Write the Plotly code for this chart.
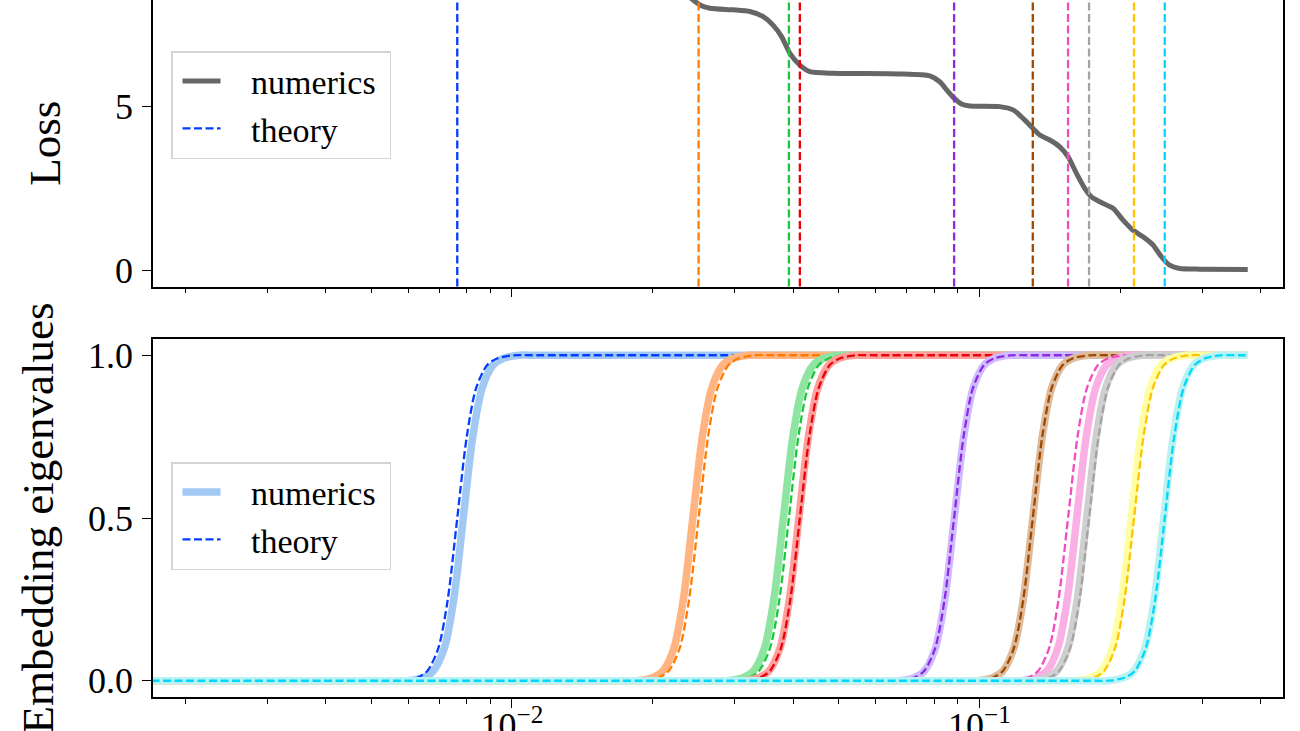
import plotly.graph_objects as go
from plotly.subplots import make_subplots

# ---------------- data ----------------
T_START = 0.0016
T_END = 0.375

THEORY_COLORS = ['#023eff', '#ff7c00', '#1ac938', '#e8000b', '#8b2be2',
                 '#9f4800', '#f14cc1', '#a3a3a3', '#ffc400', '#00d7ff']
NUMERICS_COLORS = ['#a1c9f4', '#ffb482', '#8de5a1', '#ff9f9b', '#d0bbff',
                   '#debb9b', '#fab0e4', '#cfcfcf', '#fffea3', '#b9f2f0']

# time at which each eigenvalue crosses 0.5 (theory = dashed, numerics = thick)
THEORY_MID = [0.00764, 0.02508, 0.03913, 0.04130, 0.08829,
              0.13009, 0.15477, 0.17163, 0.21418, 0.24917]
NUMERICS_MID = [0.00787, 0.02438, 0.03808, 0.04110, 0.08838,
                0.13009, 0.16155, 0.16970, 0.21125, 0.24795]

# common shape of one rise: offset from the
# mid time (in decades) at which a curve reaches each level
PROFILE_DECADES = [-0.16, -0.12, -0.085, -0.064, -0.0405, -0.0203, 0.0,
                   0.0203, 0.0405, 0.064, 0.085, 0.12, 0.16]
PROFILE_LEVELS = [0.0, 0.0, 0.01, 0.03, 0.10, 0.25, 0.50,
                  0.75, 0.90, 0.97, 0.99, 1.0, 1.0]

# loss curve (top panel)
LOSS_T = [0.0016, 0.0062, 0.0074, 0.0090, 0.0180, 0.020728, 0.022318, 0.023322,
          0.024419, 0.025238, 0.026513, 0.029690, 0.032282, 0.034412, 0.036154,
          0.037746, 0.039319, 0.041302, 0.043389, 0.048581, 0.067555, 0.078323,
          0.082283, 0.085712, 0.088289, 0.091565, 0.095379, 0.11056, 0.11808,
          0.12403, 0.13009, 0.13465, 0.14145, 0.14857, 0.15477, 0.16131,
          0.16803, 0.17367, 0.18091, 0.19316, 0.20290, 0.21313, 0.22390,
          0.23520, 0.24513, 0.25535, 0.26827, 0.29604, 0.375]
LOSS_Y = [10.0, 9.99, 9.5, 9.01, 9.0, 8.95, 8.75, 8.5,
          8.26, 8.11, 8.01, 7.96, 7.91, 7.76, 7.50,
          7.14, 6.63, 6.27, 6.07, 6.02, 6.0, 5.94,
          5.76, 5.46, 5.26, 5.08, 5.02, 5.0, 4.90,
          4.64, 4.34, 4.13, 3.98, 3.77, 3.47, 2.96,
          2.50, 2.24, 2.09, 1.89, 1.53, 1.22, 1.02,
          0.77, 0.41, 0.15, 0.05, 0.03, 0.02]

X_MAJOR = [0.01, 0.1]
X_MAJOR_TEXT = ['10<sup>\u22122</sup>', '10<sup>\u22121</sup>']
X_MINOR = [0.002, 0.003, 0.004, 0.005, 0.006, 0.007, 0.008, 0.009,
           0.02, 0.03, 0.04, 0.05, 0.06, 0.07, 0.08, 0.09,
           0.2, 0.3, 0.4]
LOSS_TICKS = [0, 5]
LOSS_TICK_TEXT = ['0', '5']
EIG_TICKS = [0.0, 0.5, 1.0]
EIG_TICK_TEXT = ['0.0', '0.5', '1.0']

# ---------------- figure ----------------
FONT = 'Liberation Serif'
DASH = '8px,3.5px'
PAD = '\u00a0\u00a0\u00a0'

fig = make_subplots(rows=2, cols=1, shared_xaxes=True, vertical_spacing=0.05)


def curve_points(mid):
    ts = [T_START] + [mid * 10 ** d for d in PROFILE_DECADES] + [T_END]
    ys = [0.0] + PROFILE_LEVELS + [1.0]
    return ts, ys


# top: loss
fig.add_trace(go.Scatter(
    x=LOSS_T, y=LOSS_Y, mode='lines', name=PAD + 'numerics\u00a0',
    line=dict(color='#666666', width=5, shape='spline', smoothing=0.6),
    legend='legend', legendrank=1, showlegend=True, hoverinfo='skip'),
    row=1, col=1)

for i, tm in enumerate(THEORY_MID):
    fig.add_vline(x=tm, row=1, col=1,
                  line=dict(color=THEORY_COLORS[i], width=2.3, dash=DASH),
                  showlegend=(i == 0), name=PAD + 'theory', legend='legend',
                  legendrank=2)

# bottom: eigenvalues
for i in range(len(THEORY_MID)):
    tn, yn = curve_points(NUMERICS_MID[i])
    fig.add_trace(go.Scatter(
        x=tn, y=yn, mode='lines', name=PAD + 'numerics\u00a0',
        line=dict(color=NUMERICS_COLORS[i], width=7.5, shape='spline', smoothing=0.8),
        legend='legend2', legendrank=1, showlegend=(i == 0), hoverinfo='skip'),
        row=2, col=1)
    tt, yt = curve_points(THEORY_MID[i])
    fig.add_trace(go.Scatter(
        x=tt, y=yt, mode='lines', name=PAD + 'theory',
        line=dict(color=THEORY_COLORS[i], width=2.3, dash=DASH, shape='spline', smoothing=0.8),
        legend='legend2', legendrank=2, showlegend=(i == 0), hoverinfo='skip'),
        row=2, col=1)

W, H = 1300, 731
ML, MR, MT, MB = 153, 17, 0, 34
plot_h = H - MT - MB
top_dom = [(plot_h - 286.5) / plot_h, 1.0]
bot_dom = [0.0, (plot_h - 339) / plot_h]

axis_common = dict(showline=True, linecolor='black', linewidth=1.5,
                   ticks='outside', tickcolor='black', tickwidth=1.4, ticklen=9,
                   showgrid=False, zeroline=False,
                   tickfont=dict(family=FONT, size=36, color='black'))

xr = [-2.7678, -0.3505]
fig.update_xaxes(type='log', range=xr, tickvals=X_MAJOR, ticktext=X_MAJOR_TEXT,
                 minor=dict(tickvals=X_MINOR, ticks='outside', ticklen=5,
                            tickwidth=1.1, tickcolor='black', showgrid=False),
                 **axis_common)
fig.update_xaxes(mirror=False, showticklabels=False, row=1, col=1)
fig.update_xaxes(mirror=True, row=2, col=1, ticklabelstandoff=-13)

fig.update_yaxes(mirror=True, **axis_common)
fig.update_yaxes(range=[-0.5, 8.26], domain=top_dom, tickvals=LOSS_TICKS,
                 ticktext=LOSS_TICK_TEXT, ticklabelstandoff=2,
                 title=dict(text='Loss', font=dict(family=FONT, size=45, color='black'),
                            standoff=40),
                 row=1, col=1)
fig.update_yaxes(range=[-0.05, 1.05], domain=bot_dom, tickvals=EIG_TICKS,
                 ticktext=EIG_TICK_TEXT, ticklabelstandoff=2,
                 title=dict(text='Embedding eigenvalues',
                            font=dict(family=FONT, size=45, color='black'),
                            standoff=20),
                 row=2, col=1)

legend_common = dict(bgcolor='rgba(255,255,255,0.85)', bordercolor='#d4d4d4',
                     borderwidth=1.5, font=dict(family=FONT, size=34, color='black'),
                     xanchor='left', yanchor='top', itemwidth=38, indentation=5,
                     traceorder='normal')
fig.update_layout(
    width=W, height=H,
    margin=dict(l=ML, r=MR, t=MT, b=MB, autoexpand=False),
    paper_bgcolor='white', plot_bgcolor='white',
    font=dict(family=FONT, color='black'),
    legend=dict(x=(171 - ML) / (W - ML - MR), y=(plot_h - 51) / plot_h, **legend_common),
    legend2=dict(x=(171 - ML) / (W - ML - MR), y=(plot_h - 462) / plot_h, **legend_common),
)

fig.write_html('out.html', config={'displayModeBar': False},
               post_script="document.body.style.margin='0px';document.body.style.padding='0px';")
